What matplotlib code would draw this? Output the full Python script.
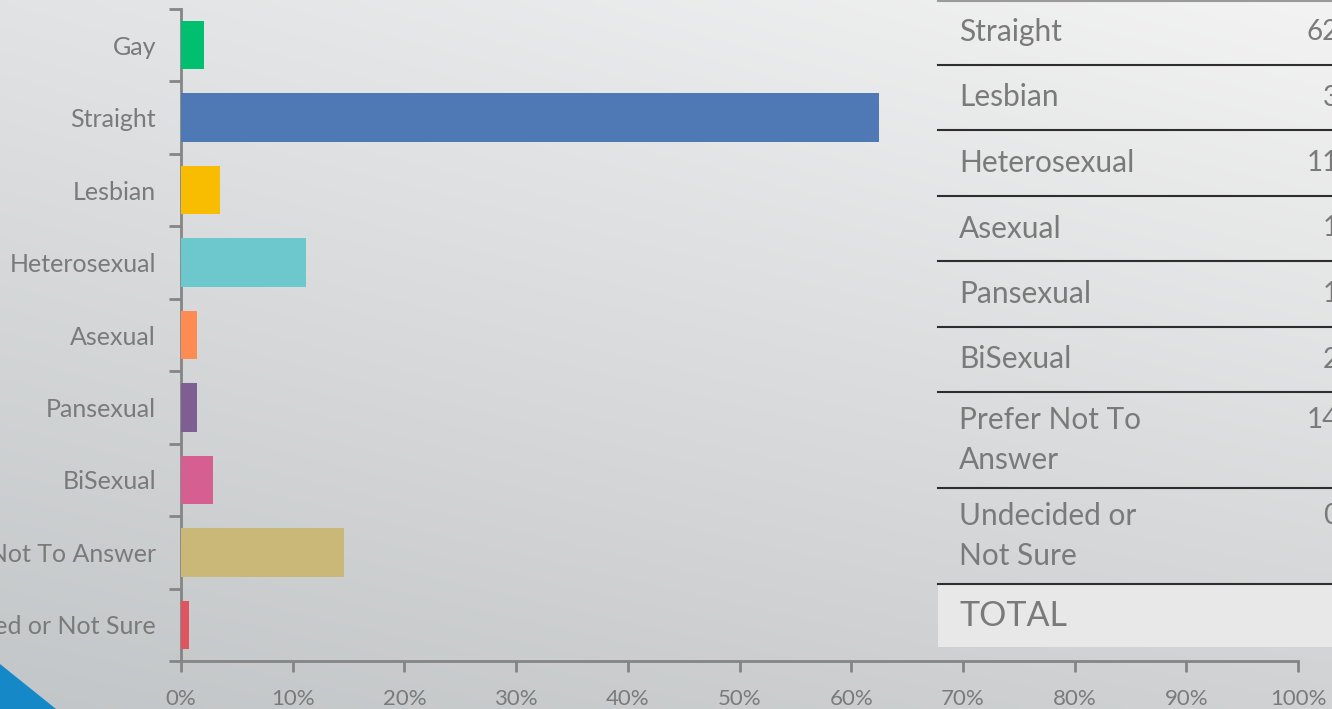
import numpy as np
import matplotlib
matplotlib.use("Agg")
import matplotlib.pyplot as plt
from matplotlib.patches import Polygon, Rectangle

plt.rcParams['font.family'] = ['Lato', 'DejaVu Sans']

categories = ["Gay", "Straight", "Lesbian", "Heterosexual", "Asexual",
              "Pansexual", "BiSexual", "Prefer Not To Answer", "Undecided or Not Sure"]
percent = [2.1, 62.5, 3.5, 11.2, 1.4, 1.4, 2.9, 14.6, 0.7]
bar_colors = ["#00bf6f", "#4e79b5", "#f8bd00", "#6cc8cc", "#fe8b52",
              "#7f5e94", "#d65f91", "#c9b878", "#e05360"]
x_ticks = [0, 10, 20, 30, 40, 50, 60, 70, 80, 90, 100]

# table rows shown beside the chart (Gay row sits above the visible area)
table_labels = ["Straight", "Lesbian", "Heterosexual", "Asexual", "Pansexual",
                "BiSexual", "Prefer Not To\nAnswer", "Undecided or\nNot Sure"]
table_values = [62.5, 3.5, 11.2, 1.4, 1.4, 2.9, 14.6, 0.7]

W, H = 1332, 709
fig = plt.figure(figsize=(W / 100, H / 100), dpi=100)

# slide background gradient
bg = fig.add_axes([0, 0, 1, 1])
bg.set_axis_off()
tl, tr = np.array([0xe1, 0xe3, 0xe4]), np.array([0xf3, 0xf3, 0xf3])
bl, br = np.array([0xc3, 0xc6, 0xc8]), np.array([0xd0, 0xd2, 0xd3])
u = np.linspace(0, 1, 200)[None, :, None]
v = np.linspace(0, 1, 120)[:, None, None]
img = (1 - v) * ((1 - u) * tl + u * tr) + v * ((1 - u) * bl + u * br)
bg.imshow(img / 255.0, extent=[0, W, H, 0], aspect='auto', interpolation='bicubic')
bg.set_xlim(0, W)
bg.set_ylim(H, 0)

# accent triangle in the lower-left corner
bg.add_patch(Polygon([[0, 664], [56, H], [0, H]], closed=True,
                     facecolor="#1589c8", edgecolor='none'))

# bar chart
ax = fig.add_axes([181 / W, 1 - 661 / H, (1298 - 181) / W, (661 - 9) / H])
ax.patch.set_alpha(0)
y = np.arange(len(categories))
ax.barh(y, percent, height=0.67, color=bar_colors, zorder=3)
ax.set_xlim(0, 100)
ax.set_ylim(len(categories) - 0.5, -0.5)
axis_col = "#858585"
for side in ["top", "right"]:
    ax.spines[side].set_visible(False)
for side in ["left", "bottom"]:
    ax.spines[side].set_color(axis_col)
    ax.spines[side].set_linewidth(2)
ax.set_xticks(x_ticks)
ax.set_xticklabels([f"{t}%" for t in x_ticks])
ax.set_yticks(y)
ax.set_yticklabels(categories)
ax.set_yticks(np.arange(-0.5, len(categories), 1), minor=True)
ax.tick_params(axis='y', which='major', length=0, pad=18, labelsize=18, labelcolor="#7a7a7a")
ax.tick_params(axis='y', which='minor', length=9, width=2, color=axis_col)
ax.tick_params(axis='x', length=8, width=2, color=axis_col, pad=12,
               labelsize=16, labelcolor="#7a7a7a")

# data table drawn over the right part of the slide
tx0 = 938
line_ys = [65, 130, 196, 261, 327, 392, 488, 584]
row_tops = [0] + line_ys[:-1]
row_bots = line_ys
bg.plot([tx0, W], [1, 1], color="#9a9a9a", lw=1.5)
for ly in line_ys:
    bg.plot([tx0, W], [ly, ly], color="#2e2e2e", lw=1.5)
bg.add_patch(Rectangle((tx0, 585), W - tx0, 62, facecolor="#e8e8e8", edgecolor='none'))
for lab, val, t0, b0 in zip(table_labels, table_values, row_tops, row_bots):
    cy = (t0 + b0) / 2
    bg.text(959, cy, lab, fontsize=21.5, color="#7a7a7a", va='center', ha='left',
            linespacing=1.5)
    first_line_y = cy - 20 if "\n" in lab else cy
    bg.text(1400, first_line_y, f"{val:.2f}%", fontsize=20, color="#7a7a7a",
            va='center', ha='right', clip_on=False)
bg.text(959, 616, "TOTAL", fontsize=24.5, color="#7a7a7a", va='center', ha='left')

fig.savefig("out.png", dpi=100)
